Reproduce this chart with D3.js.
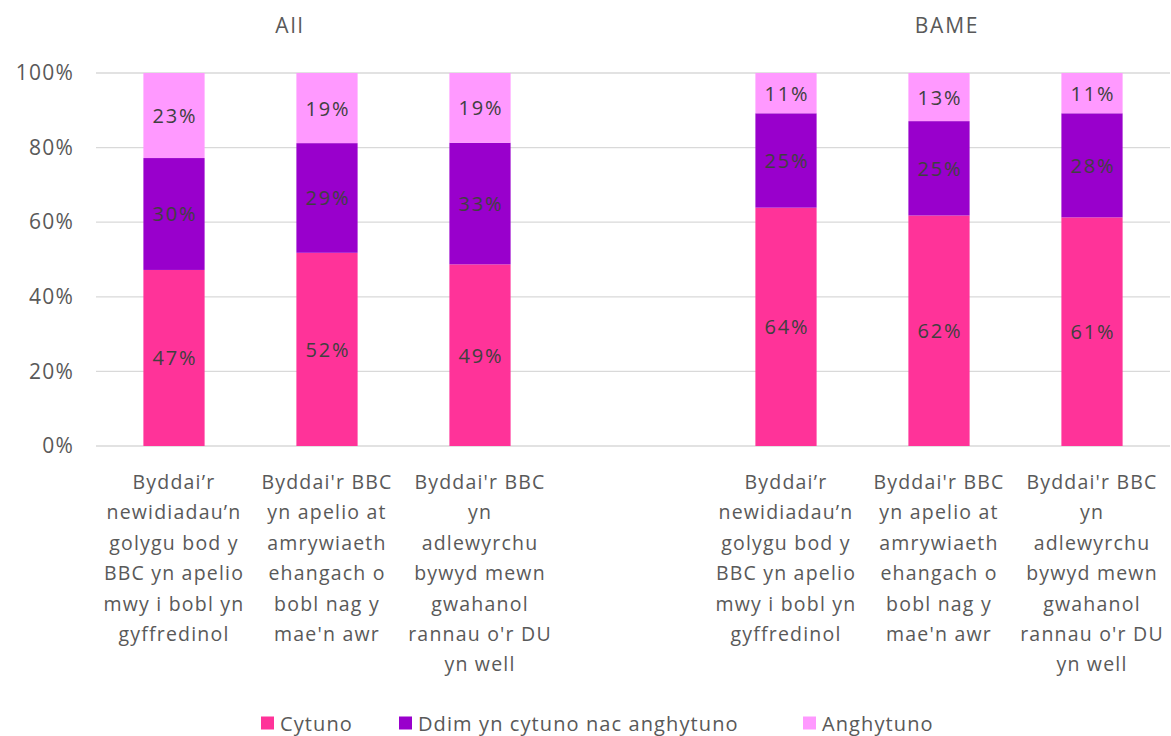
<!DOCTYPE html>
<html>
<head>
<meta charset="utf-8">
<script src="https://cdn.jsdelivr.net/npm/d3@7"></script>
<style>
  body { margin: 0; background: #fff; }
  svg { display: block; font-family: "Open Sans", "Noto Sans", sans-serif; }
</style>
</head>
<body>
<svg></svg>
<script>
// categories (the empty slot separates the two groups)
var categories = ["a1", "a2", "a3", "gap", "b1", "b2", "b3"];
var categoryLabels = [
    ["Byddai\u2019r", "newidiadau\u2019n", "golygu bod y", "BBC yn apelio", "mwy i bobl yn", "gyffredinol"],
    ["Byddai'r BBC", "yn apelio at", "amrywiaeth", "ehangach o", "bobl nag y", "mae'n awr"],
    ["Byddai'r BBC", "yn", "adlewyrchu", "bywyd mewn", "gwahanol", "rannau o'r DU", "yn well"],
    [],
    ["Byddai\u2019r", "newidiadau\u2019n", "golygu bod y", "BBC yn apelio", "mwy i bobl yn", "gyffredinol"],
    ["Byddai'r BBC", "yn apelio at", "amrywiaeth", "ehangach o", "bobl nag y", "mae'n awr"],
    ["Byddai'r BBC", "yn", "adlewyrchu", "bywyd mewn", "gwahanol", "rannau o'r DU", "yn well"]
];
var groupTitles = ["All", "BAME"];

var seriesNames = ["Cytuno", "Ddim yn cytuno nac anghytuno", "Anghytuno"];
var cytuno     = [47.2, 51.8, 48.7, null, 63.9, 61.8, 61.3];
var ddim       = [30.0, 29.4, 32.6, null, 25.3, 25.3, 27.9];
var anghytuno  = [22.8, 18.8, 18.7, null, 10.8, 12.9, 10.8];
var yTicks = [0, 20, 40, 60, 80, 100];

var colors = ["#ff3399", "#9900cc", "#ff99ff"];

var width = 1171, height = 736;
var svg = d3.select("svg").attr("width", width).attr("height", height);

var x = d3.scaleBand()
          .domain(categories)
          .range([97.5, 1168.5])
          .paddingInner(0.6)
          .paddingOuter(0.3);
var y = d3.scaleLinear().domain([0, 100]).range([446, 73]);

// build rows for the stack
var rows = categories.map(function(c, i) {
    return { cat: c, s0: cytuno[i] || 0, s1: ddim[i] || 0, s2: anghytuno[i] || 0, empty: cytuno[i] == null };
});
var stack = d3.stack().keys(["s0", "s1", "s2"]);
var layers = stack(rows);

// gridlines
svg.append("g")
    .selectAll("line")
    .data(yTicks)
    .enter()
    .append("line")
    .attr("x1", 96).attr("x2", 1170)
    .attr("y1", d => y(d)).attr("y2", d => y(d))
    .attr("stroke", "#d9d9d9")
    .attr("stroke-width", 1.3);

// y axis labels
var yAxis = d3.axisLeft(y).tickValues(yTicks).tickFormat(d => d + "%").tickSize(0).tickPadding(0);
var yg = svg.append("g").attr("transform", "translate(74,0)").call(yAxis);
yg.select(".domain").remove();
yg.selectAll("text")
    .attr("font-size", 21)
    .attr("letter-spacing", 1.2)
    .attr("fill", "#595959")
    .attr("font-family", "\"Open Sans\", sans-serif");

// bars
var layerG = svg.selectAll(".layer")
    .data(layers)
    .enter()
    .append("g")
    .attr("fill", (d, i) => colors[i]);

layerG.selectAll("rect")
    .data(d => d.filter(p => !p.data.empty))
    .enter()
    .append("rect")
    .attr("x", d => x(d.data.cat))
    .attr("width", x.bandwidth())
    .attr("y", d => y(d[1]))
    .attr("height", d => y(d[0]) - y(d[1]));

layerG.selectAll("text")
    .data(d => d.filter(p => !p.data.empty))
    .enter()
    .append("text")
    .attr("x", d => x(d.data.cat) + x.bandwidth() / 2 + 1)
    .attr("y", d => (y(d[0]) + y(d[1])) / 2)
    .attr("text-anchor", "middle")
    .attr("dominant-baseline", "central")
    .attr("font-size", 20)
    .attr("letter-spacing", 1.8)
    .attr("fill", "#404040")
    .text(d => Math.round(d[1] - d[0]) + "%");

// category labels
var catG = svg.append("g");
categories.forEach(function(c, i) {
    var t = catG.append("text")
        .attr("x", x(c) + x.bandwidth() / 2)
        .attr("y", 489)
        .attr("text-anchor", "middle")
        .attr("font-size", 19.5)
        .attr("letter-spacing", 1.2)
        .attr("fill", "#595959");
    categoryLabels[i].forEach(function(line, j) {
        t.append("tspan")
            .attr("x", x(c) + x.bandwidth() / 2)
            .attr("dy", j === 0 ? 0 : 30.4)
            .text(line);
    });
});

// group titles
svg.append("text")
    .attr("x", x("a2") + x.bandwidth() / 2 - 37)
    .attr("y", 33)
    .attr("text-anchor", "middle")
    .attr("font-size", 21)
    .attr("letter-spacing", 1.8)
    .attr("fill", "#595959")
    .text(groupTitles[0]);
svg.append("text")
    .attr("x", x("b2") + x.bandwidth() / 2 + 8)
    .attr("y", 33)
    .attr("text-anchor", "middle")
    .attr("font-size", 21)
    .attr("letter-spacing", 1.8)
    .attr("fill", "#595959")
    .text(groupTitles[1]);

// legend
var legendX = [261, 399, 803];
var legend = svg.append("g")
    .selectAll("g")
    .data(seriesNames)
    .enter()
    .append("g")
    .attr("transform", (d, i) => "translate(" + legendX[i] + ",723)");
legend.append("rect")
    .attr("x", 0).attr("y", -6.5)
    .attr("width", 13).attr("height", 13)
    .attr("fill", (d, i) => colors[i]);
legend.append("text")
    .attr("x", 19)
    .attr("y", 0)
    .attr("dominant-baseline", "central")
    .attr("font-size", 20)
    .attr("letter-spacing", 1.1)
    .attr("fill", "#595959")
    .text(d => d);
</script>
</body>
</html>
